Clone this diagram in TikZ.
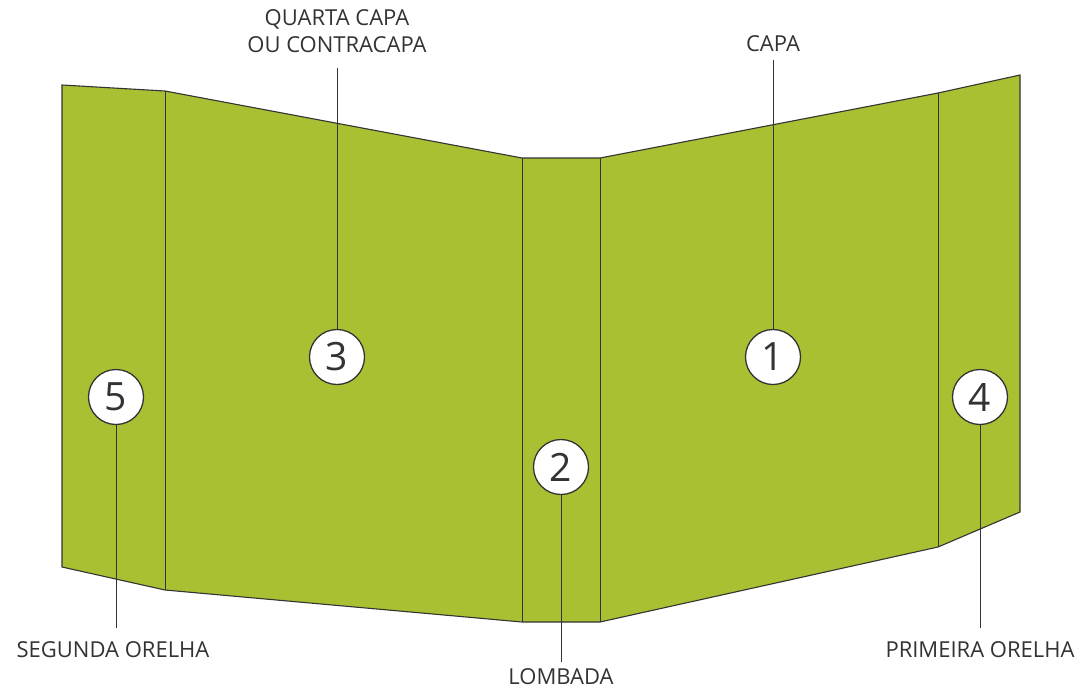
\documentclass[tikz,border=0pt]{standalone}
\usepackage{fontspec}
\setmainfont{Open Sans}
\usepackage{xcolor}
\definecolor{capagreen}{RGB}{168,192,50}
\definecolor{inkgray}{RGB}{51,51,51}
\tikzset{
  numcircle/.style={circle,draw=inkgray,line width=1.3pt,fill=white,inner sep=0pt,
    minimum size=55pt,text=inkgray,font=\fontsize{39}{39}\selectfont},
  partlabel/.style={text=inkgray,inner sep=0pt,align=center,
    font=\fontsize{22}{27}\selectfont},
  leader/.style={draw=inkgray,line width=1pt}
}
\begin{document}
\begin{tikzpicture}[x=1pt,y=-1pt]
\useasboundingbox (0,0) rectangle (1083,689);
\fill[capagreen] (62,85) -- (165,91) -- (522,158) -- (600,158) -- (938,93) -- (1020,75)
  -- (1020,512) -- (938,547) -- (600,622) -- (522,622) -- (165,590) -- (62,567) -- cycle;
\draw[inkgray,line width=1.1pt] (62,85) -- (165,91) -- (522,158) -- (600,158) -- (938,93) -- (1020,75)
  -- (1020,512) -- (938,547) -- (600,622) -- (522,622) -- (165,590) -- (62,567) -- cycle;
\draw[inkgray,line width=1pt] (165,91) -- (165,590);
\draw[inkgray,line width=1pt] (522,158) -- (522,622);
\draw[inkgray,line width=1pt] (600,158) -- (600,622);
\draw[inkgray,line width=1pt] (938,93) -- (938,547);
\node[partlabel] (capa) at (773,44) {CAPA};
\node[partlabel] (quarta) at (337,31) {QUARTA CAPA\\OU CONTRACAPA};
\node[partlabel] (segunda) at (113,650) {SEGUNDA ORELHA};
\node[partlabel] (primeira) at (980,650) {PRIMEIRA ORELHA};
\node[partlabel] (lombada) at (561,677) {LOMBADA};
\coordinate (capaend) at (773,60);
\coordinate (quartaend) at (337,68);
\coordinate (segundaend) at (116,628);
\coordinate (primeiraend) at (980,628);
\coordinate (lombadaend) at (561,662);
\node[numcircle] (n1) at (773,357) {1};
\node[numcircle] (n2) at (561,467) {2};
\node[numcircle] (n3) at (337,357) {3};
\node[numcircle] (n4) at (980,397) {4};
\node[numcircle] (n5) at (116,397) {5};
\draw[leader] (capaend) -- (n1.north);
\draw[leader] (quartaend) -- (n3.north);
\draw[leader] (n5.south) -- (segundaend);
\draw[leader] (n4.south) -- (primeiraend);
\draw[leader] (n2.south) -- (lombadaend);
\end{tikzpicture}
\end{document}
